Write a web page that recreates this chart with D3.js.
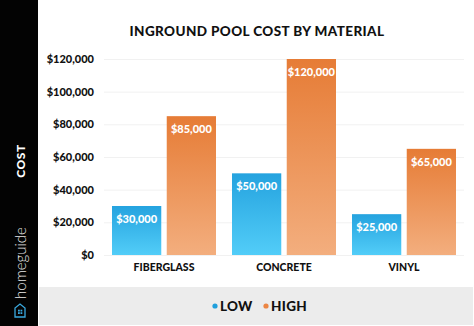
<!DOCTYPE html>
<html>
<head>
<meta charset="utf-8">
<script src="https://cdn.jsdelivr.net/npm/d3@7"></script>
<style>
    body { margin: 0; background: #fff; }
    svg { display: block; font-family: 'Lato', 'Open Sans', sans-serif; }
</style>
</head>
<body>
<div id="chart_parent"></div>
<script>
const materials = ['FIBERGLASS', 'CONCRETE', 'VINYL'];
const lowCosts = [30000, 50000, 25000];
const highCosts = [85000, 120000, 65000];
const seriesNames = ['LOW', 'HIGH'];
const yTicks = [0, 20000, 40000, 60000, 80000, 100000, 120000];

const chartConfig = {
    outerWidth: 474,
    outerHeight: 326,
    plot: { left: 104, right: 464, top: 59, bottom: 255 },
    colours: {
        low: ['#25a3df', '#52cdf8'],
        high: ['#e67c36', '#f3ae7e'],
        lowDot: '#1f9fdc',
        highDot: '#ec8543',
    },
};

function initialiseChart(rootSelector, config) {
    const svg = d3.select(rootSelector).append('svg')
        .attr('width', config.outerWidth)
        .attr('height', config.outerHeight);

    const defs = svg.append('defs');
    [['grad-low', config.colours.low], ['grad-high', config.colours.high]].forEach(([id, cols]) => {
        const g = defs.append('linearGradient')
            .attr('id', id)
            .attr('x1', 0).attr('y1', 0).attr('x2', 0).attr('y2', 1);
        g.append('stop').attr('offset', '0%').attr('stop-color', cols[0]);
        g.append('stop').attr('offset', '100%').attr('stop-color', cols[1]);
    });

    return svg;
}

function drawFrame(svg, config) {
    // legend band and black side panel
    svg.append('rect')
        .attr('x', 39).attr('y', 287)
        .attr('width', config.outerWidth - 40).attr('height', 38)
        .attr('fill', '#ececec');

    svg.append('rect')
        .attr('x', 0).attr('y', 0)
        .attr('width', 38).attr('height', config.outerHeight)
        .attr('fill', '#030303');

    svg.append('text')
        .attr('transform', 'translate(25,161) rotate(-90)')
        .attr('text-anchor', 'middle')
        .attr('fill', '#fff')
        .attr('font-size', 12)
        .attr('font-weight', 900)
        .attr('letter-spacing', 0.5)
        .text('COST');

    svg.append('text')
        .attr('transform', 'translate(26,263) rotate(-90)')
        .attr('text-anchor', 'middle')
        .attr('fill', '#e8e8e8')
        .attr('font-size', 15)
        .attr('font-weight', 300)
        .text('homeguide');

    // little house logo
    const logo = svg.append('g').attr('transform', 'translate(20,311) rotate(-90)');
    logo.append('path')
        .attr('d', 'M-6,-5 L3,-5 L7,0 L3,5 L-6,5 Z')
        .attr('fill', 'none')
        .attr('stroke', '#3aa9df')
        .attr('stroke-width', 1.3);
    logo.selectAll('rect.win')
        .data([[-3, -2], [-3, 0.5], [-0.5, -2], [-0.5, 0.5]])
        .enter().append('rect')
        .attr('class', 'win')
        .attr('x', d => d[0]).attr('y', d => d[1])
        .attr('width', 1.8).attr('height', 1.8)
        .attr('fill', '#3aa9df');

    svg.append('text')
        .attr('x', 257).attr('y', 36)
        .attr('text-anchor', 'middle')
        .attr('fill', '#111')
        .attr('font-size', 13.5)
        .attr('font-weight', 900)
        .attr('letter-spacing', 0.4)
        .text('INGROUND POOL COST BY MATERIAL');
}

function updateChart(svg, config) {
    const { plot } = config;

    const yScale = d3.scaleLinear()
        .domain([0, 120000])
        .range([plot.bottom, plot.top]);

    const xScale = d3.scaleBand()
        .domain(materials)
        .range([plot.left, plot.right])
        .paddingInner(0)
        .paddingOuter(0);

    const subScale = d3.scaleBand()
        .domain(seriesNames)
        .range([8, xScale.bandwidth() - 8])
        .paddingInner(0.1);

    const yAxis = d3.axisLeft(yScale)
        .tickValues(yTicks)
        .tickSize(-(plot.right - plot.left))
        .tickPadding(10)
        .tickFormat(d => '$' + d3.format(',')(d));

    const yAxisGroup = svg.append('g')
        .attr('class', 'y-axis-group')
        .attr('transform', `translate(${plot.left},0)`)
        .call(yAxis);
    yAxisGroup.select('.domain').remove();
    yAxisGroup.selectAll('line').attr('stroke', '#f1f1f1');
    yAxisGroup.selectAll('text')
        .attr('fill', '#111')
        .attr('font-size', 11)
        .attr('font-weight', 900)
        .attr('font-family', 'Lato, sans-serif');

    const xAxis = d3.axisBottom(xScale).tickSize(0).tickPadding(9);
    const xAxisGroup = svg.append('g')
        .attr('class', 'x-axis-group')
        .attr('transform', `translate(0,${plot.bottom})`)
        .call(xAxis);
    xAxisGroup.select('.domain').remove();
    xAxisGroup.selectAll('text')
        .attr('fill', '#111')
        .attr('font-size', 10.5)
        .attr('font-weight', 900)
        .attr('font-family', 'Lato, sans-serif');

    const rows = materials.map((m, i) => ({
        material: m,
        values: [
            { key: 'LOW', value: lowCosts[i] },
            { key: 'HIGH', value: highCosts[i] },
        ],
    }));

    const groups = svg.selectAll('.group')
        .data(rows)
        .enter().append('g')
        .attr('class', 'group')
        .attr('transform', d => `translate(${xScale(d.material)},0)`);

    const bars = groups.selectAll('.bar')
        .data(d => d.values)
        .enter().append('g')
        .attr('class', 'bar');

    bars.append('rect')
        .attr('x', d => subScale(d.key))
        .attr('y', d => yScale(d.value))
        .attr('width', subScale.bandwidth())
        .attr('height', d => yScale(0) - yScale(d.value))
        .attr('fill', d => (d.key === 'LOW' ? 'url(#grad-low)' : 'url(#grad-high)'));

    bars.append('text')
        .attr('x', d => subScale(d.key) + subScale.bandwidth() / 2)
        .attr('y', d => yScale(d.value) + 17)
        .attr('text-anchor', 'middle')
        .attr('fill', '#fff')
        .attr('font-size', 11)
        .attr('font-weight', 900)
        .text(d => '$' + d3.format(',')(d.value));

    // legend
    const legend = svg.append('g').attr('class', 'legend');
    const legendX = [215, 266];
    const dotCols = [config.colours.lowDot, config.colours.highDot];
    seriesNames.forEach((name, i) => {
        legend.append('circle')
            .attr('cx', legendX[i]).attr('cy', 306)
            .attr('r', 2.6)
            .attr('fill', dotCols[i]);
        legend.append('text')
            .attr('x', legendX[i] + 5).attr('y', 311)
            .attr('fill', '#111')
            .attr('font-size', 13.5)
            .attr('font-weight', 900)
            .attr('letter-spacing', 0.3)
            .text(name);
    });
}

const chartSvg = initialiseChart('#chart_parent', chartConfig);
drawFrame(chartSvg, chartConfig);
updateChart(chartSvg, chartConfig);
</script>
</body>
</html>
